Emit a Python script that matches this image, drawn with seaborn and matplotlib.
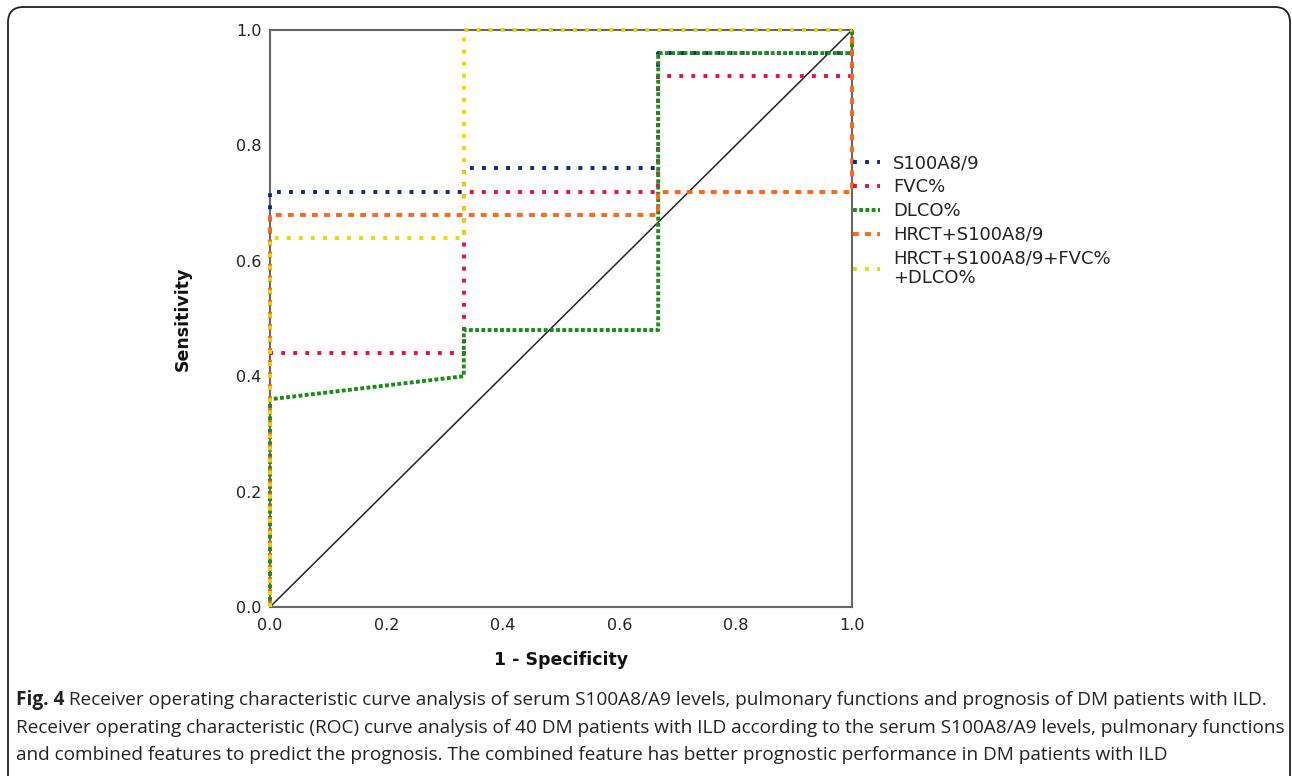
import matplotlib
matplotlib.use("Agg")
import matplotlib.pyplot as plt
import seaborn as sns
import pandas as pd
from matplotlib.patches import FancyBboxPatch

# ---- data: ROC points (1 - specificity, sensitivity) ----
names = ["S100A8/9", "FVC%", "DLCO%", "HRCT+S100A8/9", "HRCT+S100A8/9+FVC%\n+DLCO%"]
fpr_s100 = [0.0, 0.0, 0.333, 0.333, 0.667, 0.667, 1.0, 1.0]
tpr_s100 = [0.0, 0.72, 0.72, 0.76, 0.76, 0.96, 0.96, 1.0]
fpr_fvc = [0.0, 0.0, 0.333, 0.333, 0.667, 0.667, 1.0, 1.0]
tpr_fvc = [0.0, 0.44, 0.44, 0.72, 0.72, 0.92, 0.92, 1.0]
fpr_dlco = [0.0, 0.0, 0.333, 0.333, 0.667, 0.667, 1.0, 1.0]
tpr_dlco = [0.0, 0.36, 0.40, 0.48, 0.48, 0.96, 0.96, 1.0]
fpr_hrct = [0.0, 0.0, 0.667, 0.667, 1.0, 1.0]
tpr_hrct = [0.0, 0.68, 0.68, 0.72, 0.72, 1.0]
fpr_comb = [0.0, 0.0, 0.333, 0.333, 1.0]
tpr_comb = [0.0, 0.64, 0.64, 1.0, 1.0]
ref_x = [0.0, 1.0]
ref_y = [0.0, 1.0]
ticks = [0.0, 0.2, 0.4, 0.6, 0.8, 1.0]
tick_labels = ["0.0", "0.2", "0.4", "0.6", "0.8", "1.0"]

series = [
    (names[0], fpr_s100, tpr_s100, "#0b2a7a", (0, (1, 2.1))),
    (names[1], fpr_fvc, tpr_fvc, "#e3103f", (0, (1, 2.1))),
    (names[2], fpr_dlco, tpr_dlco, "#1a8c1a", (0, (1, 0.6))),
    (names[3], fpr_hrct, tpr_hrct, "#ff6619", (0, (1.5, 1.6))),
    (names[4], fpr_comb, tpr_comb, "#e8d800", (0, (1, 2.1))),
]

sns.set_theme(style="white")
plt.rcParams["font.family"] = ["DejaVu Sans"]

W, H = 1292, 776
fig = plt.figure(figsize=(W / 100, H / 100), dpi=100)
ax = fig.add_axes([270 / W, 1 - 607 / H, 582 / W, 577 / H])

lw = 2.8
for name, xs, ys, col, ls in series:
    df = pd.DataFrame({"x": xs, "y": ys})
    sns.lineplot(data=df, x="x", y="y", sort=False, estimator=None, ax=ax,
                 color=col, linewidth=lw, label=name, zorder=3)
    line = ax.lines[-1]
    line.set_linestyle(ls)
    line.set_dash_capstyle("butt")
    line.set_solid_capstyle("butt")
    line.set_clip_on(False)

dref = pd.DataFrame({"x": ref_x, "y": ref_y})
sns.lineplot(data=dref, x="x", y="y", sort=False, estimator=None, ax=ax,
             color="#222222", linewidth=1.1, zorder=2)

ax.set_xlim(0, 1)
ax.set_ylim(0, 1)
ax.set_xticks(ticks)
ax.set_xticklabels(tick_labels)
ax.set_yticks(ticks)
ax.set_yticklabels(tick_labels)
ax.tick_params(axis="both", length=0, labelsize=11.5, colors="#222222")
ax.tick_params(axis="x", pad=8)
ax.tick_params(axis="y", pad=6)
for sp in ax.spines.values():
    sp.set_visible(True)
    sp.set_color("#666666")
    sp.set_linewidth(1.5)
    sp.set_zorder(2.5)

ax.set_xlabel("1 - Specificity", fontsize=12.5, fontweight="bold", color="#111111")
ax.set_ylabel("Sensitivity", fontsize=12.5, fontweight="bold", color="#111111")
ax.xaxis.set_label_coords(0.5, (607 - 651) / 577)
ax.yaxis.set_label_coords((192 - 270) / 582, 0.5)

leg = ax.legend(loc="upper left", bbox_to_anchor=(1.002, 0.784), frameon=False,
                fontsize=13, handlelength=1.5, handletextpad=0.7,
                labelspacing=0.32, borderaxespad=0, borderpad=0)
for t in leg.get_texts():
    t.set_color("#222222")
    t.set_linespacing(1.1)
for h in leg.get_lines():
    h.set_dash_capstyle("butt")

# figure border (rounded)
border = FancyBboxPatch((8 / W, 0 - 0.02), (1290 - 8) / W, (H - 7) / H + 0.02,
                        boxstyle="round,pad=0,rounding_size=0.012",
                        transform=fig.transFigure, fill=False,
                        edgecolor="#222222", linewidth=1.3, clip_on=False,
                        mutation_aspect=W / H)
fig.patches.append(border)

# caption
cap_bold = "Fig. 4"
cap1 = " Receiver operating characteristic curve analysis of serum S100A8/A9 levels, pulmonary functions and prognosis of DM patients with ILD."
cap2 = "Receiver operating characteristic (ROC) curve analysis of 40 DM patients with ILD according to the serum S100A8/A9 levels, pulmonary functions"
cap3 = "and combined features to predict the prognosis. The combined feature has better prognostic performance in DM patients with ILD"
cap_fam = ["Open Sans", "DejaVu Sans"]
renderer = fig.canvas.get_renderer()

fs = 13.0
x0 = 16 / W
tb = fig.text(x0, 1 - 700 / H, cap_bold, fontsize=fs, fontweight="bold", family=cap_fam,
              va="center", ha="left", color="#222222")
t1 = fig.text(0, 1 - 700 / H, cap1, fontsize=fs, family=cap_fam, va="center", ha="left", color="#222222")
t2 = fig.text(x0, 1 - 728 / H, cap2, fontsize=fs, family=cap_fam, va="center", ha="left", color="#222222")
t3 = fig.text(x0, 1 - 755 / H, cap3, fontsize=fs, family=cap_fam, va="center", ha="left", color="#222222")
wb = tb.get_window_extent(renderer).width
w1 = t1.get_window_extent(renderer).width
w2 = t2.get_window_extent(renderer).width
scale = min((1280 - 16) / (wb + w1), (1277 - 16) / w2)
fs *= scale
for t in (tb, t1, t2, t3):
    t.set_fontsize(fs)
wb = tb.get_window_extent(renderer).width
t1.set_x(x0 + wb / W)

fig.savefig("out.png", dpi=100)
